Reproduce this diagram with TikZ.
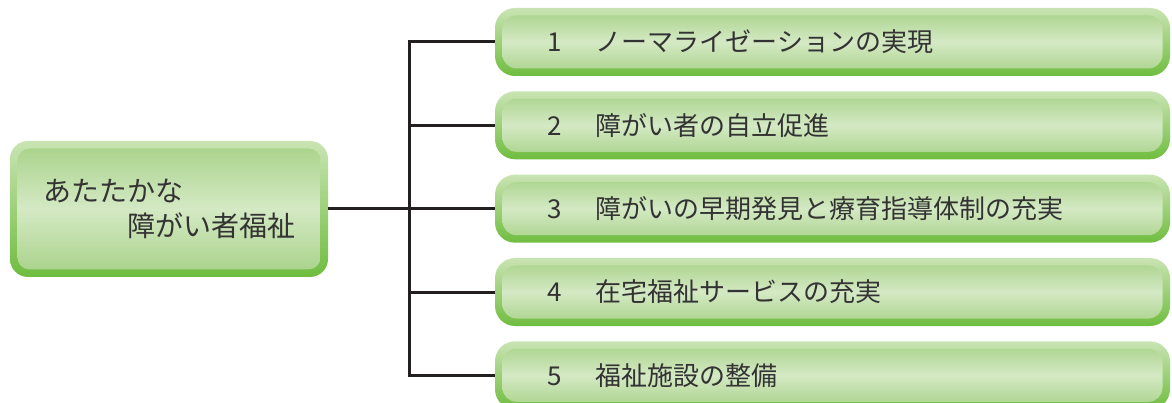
\documentclass[tikz,border=0pt]{standalone}
\usepackage{fontspec}
\newfontfamily\jp{Noto Sans CJK JP}
\definecolor{outtop}{HTML}{C9E4B3}
\definecolor{outbot}{HTML}{6FBD3F}
\definecolor{inedge}{HTML}{A6D186}
\definecolor{inmid}{HTML}{D4E9C4}
\definecolor{txt}{HTML}{333333}
\definecolor{linec}{HTML}{231F20}
\tikzset{
  greenbox/.style={rounded corners=#1, top color=outtop, bottom color=outbot, draw=none,
    inner xsep=0pt, inner ysep=0pt, align=left, text=txt,
    path picture={\shade[rounded corners=#1-6pt, top color=inedge, bottom color=inedge, middle color=inmid]
      ([shift={(7.5pt,-7.5pt)}]path picture bounding box.north west) rectangle
      ([shift={(-7.5pt,7.5pt)}]path picture bounding box.south east);}},
  itembox/.style={greenbox=20pt, minimum width=675pt, text width=675pt, minimum height=68pt,
    font=\jp\fontsize{26pt}{30pt}\selectfont},
  connector/.style={draw=linec, line width=3pt}
}
\newcommand{\itemtext}[2]{\hspace*{52pt}\makebox[49pt][l]{#1}#2}
\begin{document}
\begin{tikzpicture}[x=1pt,y=-1pt]
\useasboundingbox (0,0) rectangle (1172,403);
\clip (0,0) rectangle (1172,403);
\coordinate (j) at (409,0);
\path (169,209) node[greenbox=18pt, minimum width=318pt, text width=318pt, minimum height=136pt,
  font=\jp\fontsize{28pt}{35pt}\selectfont] (root)
  {\hspace*{33pt}あたたかな\\\hspace*{117pt}障がい者福祉};
\path (832.5,42) node[itembox] (b1) {\itemtext{1}{ノーマライゼーションの実現}};
\path (832.5,125.3) node[itembox] (b2) {\itemtext{2}{障がい者の自立促進}};
\path (832.5,208.7) node[itembox] (b3) {\itemtext{3}{障がいの早期発見と療育指導体制の充実}};
\path (832.5,292) node[itembox] (b4) {\itemtext{4}{在宅福祉サービスの充実}};
\path (832.5,375.3) node[itembox] (b5) {\itemtext{5}{福祉施設の整備}};
\draw[connector] (root.east) -- (root.east -| j);
\draw[connector] (b1.west) -- (b1.west -| j) -- (b5.west -| j) -- (b5.west);
\draw[connector] (b2.west) -- (b2.west -| j);
\draw[connector] (b3.west) -- (b3.west -| j);
\draw[connector] (b4.west) -- (b4.west -| j);
\end{tikzpicture}
\end{document}
